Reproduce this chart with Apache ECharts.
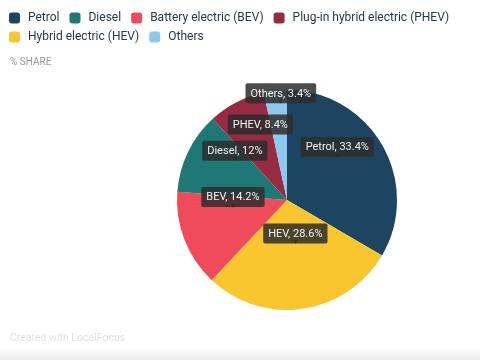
<!DOCTYPE html>
<html>
<head>
<meta charset="utf-8">
<script src="https://cdn.jsdelivr.net/npm/echarts@6/dist/echarts.min.js"></script>
<style>
html,body{margin:0;padding:0;background:#fff;}
#c{width:480px;height:360px;}
</style>
</head>
<body>
<div id="c"></div>
<script>
// Data
const categories = ['Petrol', 'Hybrid electric (HEV)', 'Battery electric (BEV)', 'Diesel', 'Plug-in hybrid electric (PHEV)', 'Others'];
const shortNames = ['Petrol', 'HEV', 'BEV', 'Diesel', 'PHEV', 'Others'];
const shares = [33.4, 28.6, 14.2, 12, 8.4, 3.4];
const legendRow1 = ['Petrol', 'Diesel', 'Battery electric (BEV)', 'Plug-in hybrid electric (PHEV)'];
const legendRow2 = ['Hybrid electric (HEV)', 'Others'];

const colorMap = {
  'Petrol': '#1d4461',
  'Hybrid electric (HEV)': '#f9c630',
  'Battery electric (BEV)': '#ef4b5a',
  'Diesel': '#1e7876',
  'Plug-in hybrid electric (PHEV)': '#962b43',
  'Others': '#8ec8ec'
};

const chart = echarts.init(document.getElementById('c'), null, {renderer: 'canvas'});

const data = categories.map((c, i) => {
  const item = {
    name: c,
    value: shares[i],
    shortName: shortNames[i],
    itemStyle: {color: colorMap[c]}
  };
  if (shortNames[i] === 'Others') {
    item.label = {offset: [0, -46]};
  }
  return item;
});

const legendBase = {
  left: 4,
  width: 470,
  itemWidth: 11,
  itemHeight: 11,
  itemGap: 10,
  icon: 'roundRect',
  textStyle: {fontSize: 12, color: '#263849', fontFamily: 'Roboto', padding: [0, 0, 0, 3]},
  selectedMode: false
};

chart.setOption({
  animation: false,
  textStyle: {fontFamily: 'Roboto'},
  legend: [
    Object.assign({}, legendBase, {data: legendRow1, top: 7}),
    Object.assign({}, legendBase, {data: legendRow2, top: 26})
  ],
  graphic: [
    {type: 'rect', left: 0, bottom: 0, shape: {width: 480, height: 12}, silent: true,
     style: {fill: new echarts.graphic.LinearGradient(0, 0, 0, 1, [{offset: 0, color: 'rgba(235,235,235,0)'}, {offset: 1, color: 'rgba(235,235,235,1)'}])}},
    {type: 'text', left: 10, top: 57, style: {text: '% SHARE', fill: '#9a9a9a', font: '10px Roboto'}},
    {type: 'text', left: 10, top: 333, style: {text: 'Created with LocalFocus', fill: '#e2e2e2', font: '10.5px Roboto'}}
  ],
  series: [{
    type: 'pie',
    center: [287, 200],
    radius: [0, 110],
    startAngle: 90,
    clockwise: true,
    data: data,
    itemStyle: {borderWidth: 0},
    labelLine: {show: false},
    label: {
      show: true,
      position: 'inside',
      offset: [0, -21],
      formatter: p => '{box|' + p.data.shortName + ', ' + p.value + '%}\n{arr|▼}',
      rich: {
        box: {
          fontSize: 11,
          fontFamily: 'Roboto',
          color: '#f2f2f2',
          backgroundColor: 'rgba(45,45,45,0.85)',
          borderRadius: 2,
          padding: [5, 5, 4, 5],
          lineHeight: 12
        },
        arr: {
          fontSize: 7,
          lineHeight: 6,
          color: 'rgba(45,45,45,0.85)'
        }
      }
    }
  }]
});
</script>
</body>
</html>
